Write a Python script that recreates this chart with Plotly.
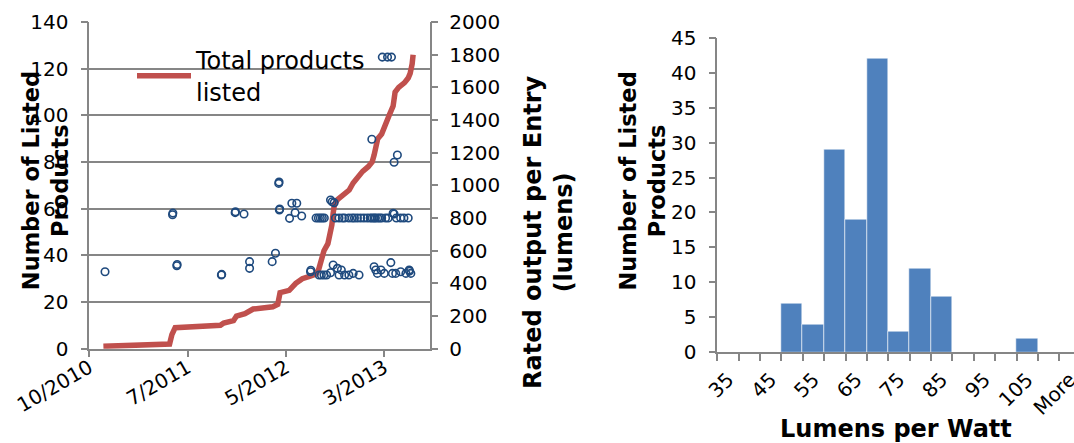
import plotly.graph_objects as go

# ---------------- data ----------------
# Cumulative count of listed products (left axis)
total_dates = ["2010-11-13", "2011-06-03", "2011-06-10", "2011-06-20", "2011-11-05", "2011-11-15",
               "2011-12-15", "2011-12-24", "2012-01-19", "2012-02-03", "2012-02-13", "2012-04-13",
               "2012-04-28", "2012-05-05", "2012-06-02", "2012-06-22", "2012-07-12", "2012-08-03",
               "2012-08-23", "2012-08-31", "2012-09-08", "2012-09-16", "2012-09-28", "2012-10-05",
               "2012-10-10", "2012-10-14", "2012-10-18", "2012-10-28", "2012-11-06", "2012-11-20",
               "2012-12-02", "2012-12-14", "2012-12-25", "2013-01-12", "2013-01-29", "2013-02-10",
               "2013-02-16", "2013-02-27", "2013-03-11", "2013-03-23", "2013-04-03", "2013-04-15",
               "2013-04-21", "2013-05-02", "2013-05-20", "2013-05-31", "2013-06-06", "2013-06-12",
               "2013-06-15"]
total_counts = [1, 2, 6, 9, 10, 11, 12, 14, 15, 16, 17, 18, 19, 24, 25, 28, 30, 31, 32, 34, 38, 42,
                45, 49, 53, 58, 62, 64, 65, 67, 68, 71, 73, 76, 78, 80, 83, 90, 92, 97, 100, 104,
                110, 112, 114, 116, 118, 122, 126]

# Rated output per entry (right axis, lumens)
entry_dates = ["2010-11-18", "2011-06-12", "2011-06-13", "2011-06-25", "2011-06-26", "2011-11-08",
               "2011-11-09", "2011-12-20", "2011-12-21", "2012-01-16", "2012-02-02", "2012-02-02",
               "2012-04-11", "2012-04-21", "2012-05-01", "2012-05-02", "2012-05-03", "2012-05-04",
               "2012-06-03", "2012-06-10", "2012-06-25", "2012-06-20", "2012-07-10", "2012-08-06",
               "2012-08-07", "2012-10-06", "2012-10-11", "2012-10-17",
               # ~800 lm cluster
               "2012-08-23", "2012-08-30", "2012-09-05", "2012-09-11", "2012-09-17", "2012-10-21",
               "2012-11-01", "2012-11-11", "2012-11-18", "2012-12-01", "2012-12-11", "2012-12-18",
               "2012-12-27", "2013-01-06", "2013-01-16", "2013-01-26", "2013-02-04", "2013-02-10",
               "2013-02-16", "2013-02-20", "2013-02-27", "2013-03-05", "2013-03-11", "2013-03-23",
               "2013-03-31", "2013-04-15", "2013-04-18", "2013-04-25", "2013-05-08", "2013-05-18",
               "2013-05-31",
               # ~450 lm cluster
               "2012-09-01", "2012-09-08", "2012-09-16", "2012-09-24", "2012-10-06", "2012-10-14",
               "2012-10-27", "2012-11-01", "2012-11-08", "2012-11-18", "2012-12-01", "2012-12-14",
               "2013-01-01", "2013-02-16", "2013-02-21", "2013-02-26", "2013-03-09", "2013-03-19",
               "2013-04-08", "2013-04-13", "2013-04-23", "2013-05-08", "2013-05-24", "2013-06-03",
               "2013-06-04", "2013-06-08",
               # high-output entries
               "2013-02-09", "2013-03-13", "2013-03-29", "2013-04-10", "2013-04-18", "2013-04-28"]
entry_lumens = [471, 820, 830, 508, 515, 451, 455, 833, 838, 825, 533, 492, 533, 584, 1012, 1020,
                849, 855, 798, 890, 890, 833, 812, 471, 480, 910, 900, 894,
                800, 800, 800, 800, 800, 800, 800, 800, 800, 800, 800, 800, 800, 800, 800, 800,
                800, 800, 800, 800, 800, 800, 800, 800, 800, 829, 825, 800, 800, 800, 800,
                451, 451, 451, 451, 465, 512, 492, 451, 482, 451, 451, 461, 451, 502, 482, 461,
                482, 461, 527, 461, 461, 471, 461, 482, 475, 461,
                1282, 1785, 1785, 1785, 1141, 1186]

date_tick_vals = ["2010-10-01", "2011-07-28", "2012-05-23", "2013-03-19"]
date_tick_text = ["10/2010", "7/2011", "5/2012", "3/2013"]

# Histogram of efficacy (lumens per watt)
bins = ["35", "40", "45", "50", "55", "60", "65", "70", "75", "80", "85", "90", "95", "100",
        "105", "110", "More"]
bin_counts = [0, 0, 0, 7, 4, 29, 19, 42, 3, 12, 8, 0, 0, 0, 2, 0, 0]

# ---------------- styling ----------------
FONT = "DejaVu Sans"
GRAY = "#868686"
RED = "#C0504D"
NAVY = "#1F4A7E"
BLUE = "#4F81BD"
W, H = 1074, 443

bin_pos = list(range(len(bins)))

fig = go.Figure()

fig.add_trace(go.Scatter(
    x=total_dates, y=total_counts, mode="lines", name="Total products<br>listed",
    line=dict(color=RED, width=5.5), xaxis="x", yaxis="y", showlegend=True))

fig.add_trace(go.Scatter(
    x=entry_dates, y=entry_lumens, mode="markers", name="Rated output",
    marker=dict(symbol="circle-open", size=7.5, color=NAVY, line=dict(width=1.6, color=NAVY)),
    xaxis="x", yaxis="y2", showlegend=False))

fig.add_trace(go.Bar(
    x=bin_pos, y=bin_counts, width=1, marker=dict(color=BLUE, line=dict(color="rgba(255,255,255,0.55)", width=1)),
    xaxis="x2", yaxis="y3", showlegend=False))

tickfont = dict(family=FONT, size=20, color="black")

fig.update_layout(
    width=W, height=H,
    margin=dict(l=0, r=0, t=0, b=0),
    paper_bgcolor="white", plot_bgcolor="white",
    font=dict(family=FONT, color="black"),
    bargap=0,
    xaxis=dict(
        domain=[89.3 / W, 429.5 / W], anchor="y", type="date",
        range=["2010-10-01", "2013-08-04"],
        tickmode="array", tickvals=date_tick_vals, ticktext=date_tick_text,
        tickangle=-30, tickfont=tickfont,
        ticks="outside", ticklen=7, tickcolor=GRAY, tickwidth=1.5,
        showline=True, linecolor=GRAY, linewidth=1.5, showgrid=False, zeroline=False,
        ticklabelstandoff=-9, automargin=False),
    yaxis=dict(
        domain=[1 - 348.7 / H, 1 - 22 / H], anchor="x",
        range=[0, 140], dtick=20, tickfont=tickfont,
        ticks="outside", ticklen=7, tickcolor=GRAY, tickwidth=1.5,
        showline=True, linecolor=GRAY, linewidth=1.5,
        showgrid=True, gridcolor=GRAY, gridwidth=1.5, zeroline=False,
        ticklabelstandoff=8, automargin=False),
    yaxis2=dict(
        overlaying="y", side="right", anchor="x",
        range=[0, 2000], dtick=200, tickfont=tickfont,
        ticks="outside", ticklen=7, tickcolor=GRAY, tickwidth=1.5,
        showline=True, linecolor=GRAY, linewidth=1.5,
        showgrid=False, zeroline=False, ticklabelstandoff=7, automargin=False),
    xaxis2=dict(
        domain=[717.3 / W, 1.0], anchor="y3",
        range=[-0.5, 16.19],
        tickmode="array", tickvals=bin_pos[::2], ticktext=bins[::2],
        tickangle=-45, tickfont=tickfont, ticks="", ticklabeloverflow="allow",
        minor=dict(ticks="outside", ticklen=7, tickcolor=GRAY, tickwidth=1.5,
                   tick0=-0.5, dtick=1, showgrid=False),
        showline=True, linecolor=GRAY, linewidth=1.5, showgrid=False, zeroline=False,
        ticklabelstandoff=6, automargin=False),
    yaxis3=dict(
        domain=[1 - 352.3 / H, 1 - 37.7 / H], anchor="x2",
        range=[0, 45], dtick=5, tickfont=tickfont,
        ticks="outside", ticklen=7, tickcolor=GRAY, tickwidth=1.5,
        showline=True, linecolor=GRAY, linewidth=1.5, showgrid=False, zeroline=False,
        ticklabelstandoff=8, automargin=False),
    legend=dict(
        x=132 / W, y=1 - 38 / H, xanchor="left", yanchor="top",
        bgcolor="rgba(0,0,0,0)", borderwidth=0,
        font=dict(family=FONT, size=24, color="black"), itemwidth=54),
)

fig.add_annotation(text="<b>Number of Listed<br>Products</b>", textangle=-90,
                   x=46.2 / W, y=1 - 181 / H, xref="paper", yref="paper",
                   xanchor="center", yanchor="middle", showarrow=False,
                   font=dict(family=FONT, size=22.5, color="black"))
fig.add_annotation(text="<b>Rated output per Entry<br>(lumens)</b>", textangle=-90,
                   x=548 / W, y=1 - 232 / H, xref="paper", yref="paper",
                   xanchor="center", yanchor="middle", showarrow=False,
                   font=dict(family=FONT, size=24, color="black"))
fig.add_annotation(text="<b>Number of Listed<br>Products</b>", textangle=-90,
                   x=642.5 / W, y=1 - 181 / H, xref="paper", yref="paper",
                   xanchor="center", yanchor="middle", showarrow=False,
                   font=dict(family=FONT, size=22.5, color="black"))
fig.add_annotation(text="<b>Lumens per Watt</b>",
                   x=895.7 / W, y=1 - 429 / H, xref="paper", yref="paper",
                   xanchor="center", yanchor="middle", showarrow=False,
                   font=dict(family=FONT, size=24, color="black"))

fig.write_html("out.html")
